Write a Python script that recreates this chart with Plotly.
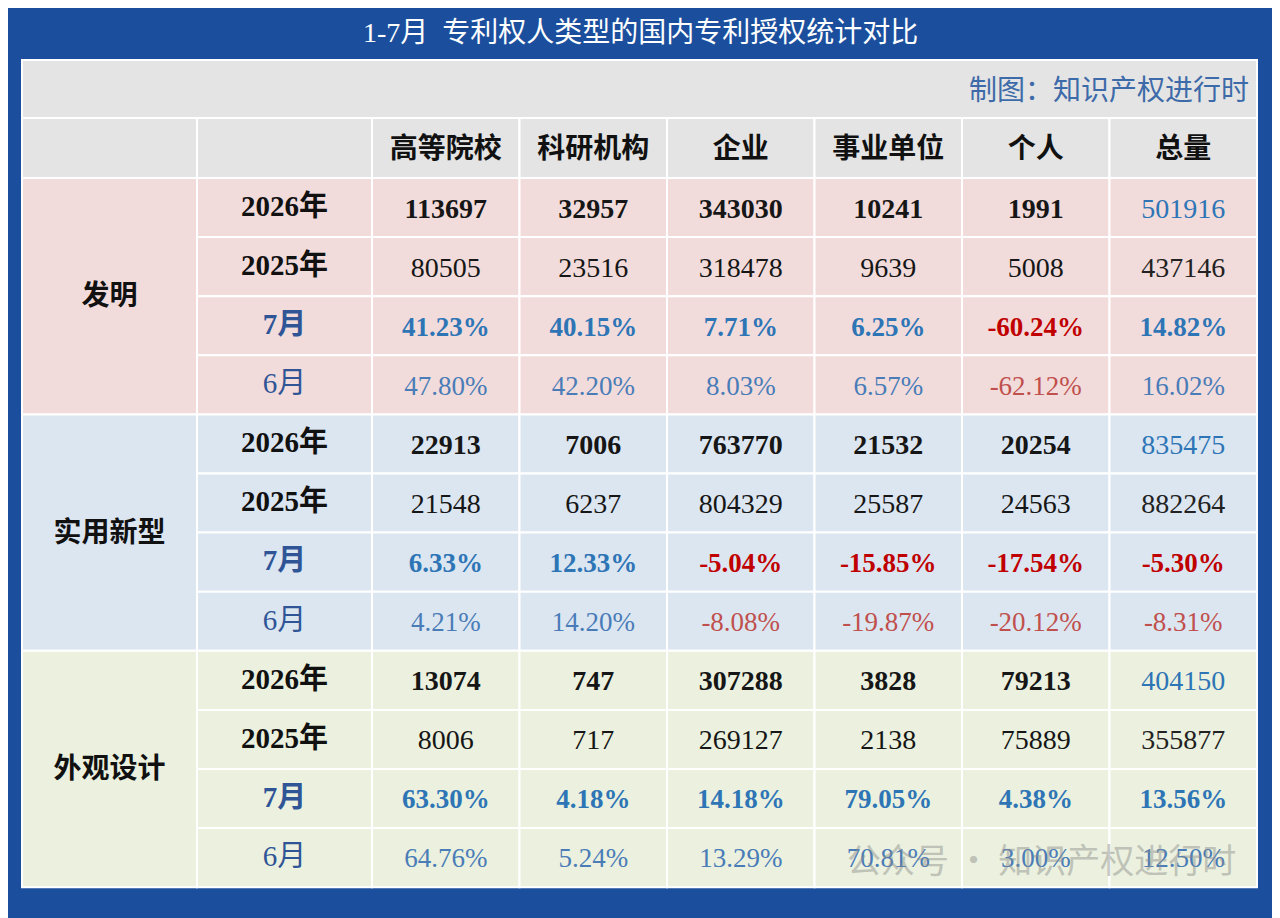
import plotly.graph_objects as go

title = "1-7月  专利权人类型的国内专利授权统计对比"
credit = "制图：知识产权进行时"
watermark = "公众号 · 知识产权进行时"

categories = ["高等院校", "科研机构", "企业", "事业单位", "个人", "总量"]
patent_types = ["发明", "实用新型", "外观设计"]
row_labels = ["2026年", "2025年", "7月", "6月"]

invention_2026 = [113697, 32957, 343030, 10241, 1991, 501916]
invention_2025 = [80505, 23516, 318478, 9639, 5008, 437146]
invention_jul = [41.23, 40.15, 7.71, 6.25, -60.24, 14.82]
invention_jun = [47.80, 42.20, 8.03, 6.57, -62.12, 16.02]

utility_2026 = [22913, 7006, 763770, 21532, 20254, 835475]
utility_2025 = [21548, 6237, 804329, 25587, 24563, 882264]
utility_jul = [6.33, 12.33, -5.04, -15.85, -17.54, -5.30]
utility_jun = [4.21, 14.20, -8.08, -19.87, -20.12, -8.31]

design_2026 = [13074, 747, 307288, 3828, 79213, 404150]
design_2025 = [8006, 717, 269127, 2138, 75889, 355877]
design_jul = [63.30, 4.18, 14.18, 79.05, 4.38, 13.56]
design_jun = [64.76, 5.24, 13.29, 70.81, 3.00, 12.50]

blocks = [
    (invention_2026, invention_2025, invention_jul, invention_jun),
    (utility_2026, utility_2025, utility_jul, utility_jun),
    (design_2026, design_2025, design_jul, design_jun),
]

# --- layout (pixel grid of a 1280x918 page; the page body adds an 8px offset) ---
W, H = 1280, 918
OFF = 8
col_edges = [22, 197, 372, 519.5, 667, 814.5, 962, 1109.5, 1257]
top, credit_h, head_h, row_h = 60, 58, 60, 59.1

BG = "#1b4f9e"
GRAY = "#e4e4e4"
fills = ["#f2dcdb", "#dce6f1", "#ebf1de"]
POS_B, POS_L = "#2e75b6", "#4a7cb8"
NEG_B, NEG_L = "#c00000", "#c0504d"
LABEL_BLUE = "#2f5597"
FONT = "Liberation Serif, Noto Sans CJK SC, serif"

fig = go.Figure()
shapes = []


def cell(x0, x1, y0, y1, color):
    shapes.append(dict(type="rect", xref="x", yref="y", x0=x0, x1=x1, y0=y0, y1=y1,
                       fillcolor=color, line=dict(color="white", width=2), layer="below"))


# credit row + header row
cell(col_edges[0], col_edges[-1], top, top + credit_h, GRAY)
head_top = top + credit_h
for i in range(len(col_edges) - 1):
    cell(col_edges[i], col_edges[i + 1], head_top, head_top + head_h, GRAY)

body_top = head_top + head_h
col_mid = [(col_edges[i] + col_edges[i + 1]) / 2 for i in range(2, len(col_edges) - 1)]

for b, rows in enumerate(blocks):
    b_top = body_top + b * 4 * row_h
    cell(col_edges[0], col_edges[1], b_top, b_top + 4 * row_h, fills[b])
    for r in range(4):
        y0 = b_top + r * row_h
        for i in range(1, len(col_edges) - 1):
            cell(col_edges[i], col_edges[i + 1], y0, y0 + row_h, fills[b])

    # block label, centred over its four rows
    fig.add_trace(go.Scatter(x=[(col_edges[0] + col_edges[1]) / 2], y=[b_top + 2 * row_h + 2],
                             mode="text", text=[patent_types[b]],
                             textfont=dict(family=FONT, size=28, color="#111111", weight="bold")))

    for r, vals in enumerate(rows):
        yc = b_top + (r + 0.5) * row_h
        if r < 2:
            txt = [str(v) for v in vals]
            colors = ["#161616"] * 5 + [POS_B if r == 0 else "#222222"]
            weight = "bold" if r == 0 else "normal"
            weights = [weight] * 5 + ["normal"]
            size = 28
            lab_color = "#111111"
            lab_weight = "bold"
        else:
            txt = [f"{v:.2f}%" for v in vals]
            strong = r == 2
            colors = [(POS_B if strong else POS_L) if v >= 0 else (NEG_B if strong else NEG_L) for v in vals]
            weights = ["bold" if strong else "normal"] * len(vals)
            size = 27
            lab_color = LABEL_BLUE
            lab_weight = "bold" if strong else "normal"
        fig.add_trace(go.Scatter(x=[(col_edges[1] + col_edges[2]) / 2], y=[yc + 1], mode="text",
                                 text=[row_labels[r]],
                                 textfont=dict(family=FONT, size=29, color=lab_color, weight=lab_weight)))
        # split by weight so the blue total of the 2026 row stays regular weight
        for w in sorted(set(weights)):
            idx = [k for k, ww in enumerate(weights) if ww == w]
            fig.add_trace(go.Scatter(x=[col_mid[k] for k in idx], y=[yc + 3] * len(idx), mode="text",
                                     text=[txt[k] for k in idx],
                                     textfont=dict(family=FONT, size=size,
                                                   color=[colors[k] for k in idx], weight=w)))

# header labels
fig.add_trace(go.Scatter(x=col_mid, y=[head_top + head_h / 2 + 3] * len(col_mid), mode="text",
                         text=categories,
                         textfont=dict(family=FONT, size=28, color="#111111", weight="bold")))

fig.add_annotation(x=W / 2, y=32, xref="x", yref="y", text=title, showarrow=False,
                   font=dict(family=FONT, size=28, color="white"))
fig.add_annotation(x=col_edges[-1] - 6, y=top + credit_h / 2 + 1, xref="x", yref="y", text=credit,
                   showarrow=False, xanchor="right",
                   font=dict(family=FONT, size=28, color="#3d6aa8"))
fig.add_annotation(x=1238, y=858, xref="x", yref="y", text=watermark, showarrow=False,
                   xanchor="right", opacity=0.45,
                   font=dict(family="Noto Sans CJK SC", size=34, color="#8a8a8a"))

fig.update_layout(
    width=W, height=H, shapes=shapes, showlegend=False,
    paper_bgcolor=BG, plot_bgcolor=BG,
    margin=dict(l=0, r=0, t=0, b=0),
    xaxis=dict(range=[OFF, W + OFF], visible=False, fixedrange=True),
    yaxis=dict(range=[H + OFF, OFF], visible=False, fixedrange=True),
)
fig.write_html("out.html")
